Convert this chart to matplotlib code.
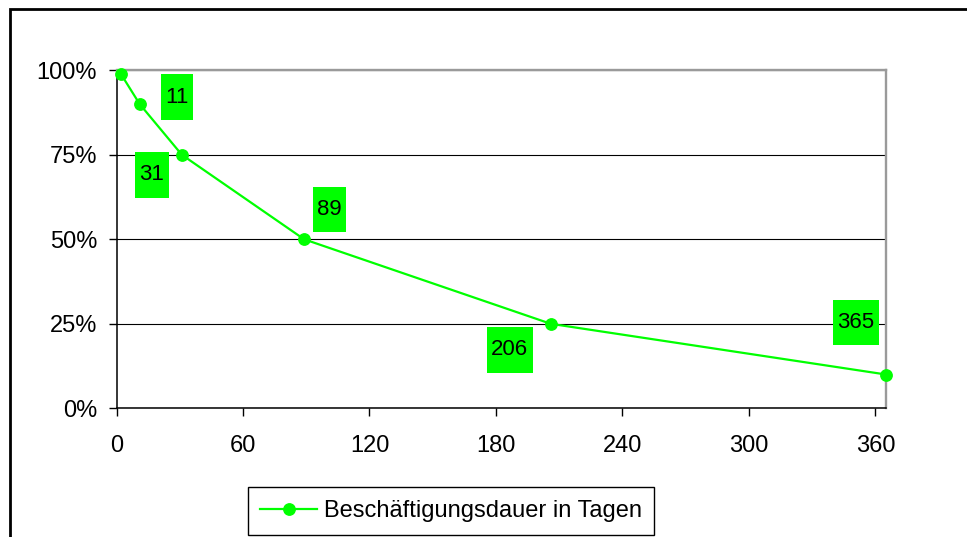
import matplotlib
matplotlib.use("Agg")
import matplotlib.pyplot as plt
from matplotlib.path import Path
from matplotlib.patches import Rectangle

# ---- data ----
days = [2, 11, 31, 89, 206, 365]
share = [0.99, 0.90, 0.75, 0.50, 0.25, 0.10]
point_labels = ["", "11", "31", "89", "206", "365"]
x_ticks = [0, 60, 120, 180, 240, 300, 360]
x_tick_labels = ["0", "60", "120", "180", "240", "300", "360"]
y_ticks = [0, 0.25, 0.5, 0.75, 1.0]
y_tick_labels = ["0%", "25%", "50%", "75%", "100%"]
series_name = "Beschäftigungsdauer in Tagen"

# label box offsets from their point, in pixels
label_offsets = [None, (37, 7), (-30, -20), (25, 30), (-41, -26), (-30, 52)]

GREEN = "#00FF00"
FONT = "Liberation Sans"
plt.rcParams["font.family"] = [FONT, "DejaVu Sans"]


class TallBox:
    """Rectangle box with separate horizontal / vertical padding."""

    def __init__(self, padx, pady):
        self.padx = padx
        self.pady = pady

    def __call__(self, x0, y0, width, height, mutation_size, *args):
        px = self.padx * mutation_size
        py = self.pady * mutation_size
        a = x0 - px
        b = y0 - py
        c = x0 + width + px
        d = y0 + height + py
        return Path([(a, b), (c, b), (c, d), (a, d), (a, b)], closed=True)


W, H = 967, 537
fig = plt.figure(figsize=(W / 100, H / 100), dpi=100)
left, right, top, bottom = 116.5, 886.0, 70.3, 408.3
ax = fig.add_axes([left / W, (H - bottom) / H, (right - left) / W, (bottom - top) / H])

ax.plot(days, share, color=GREEN, lw=1.6, marker="o", markersize=8.2,
        markerfacecolor=GREEN, markeredgecolor=GREEN, label=series_name,
        clip_on=False, zorder=4)

for x, y, lab, off in zip(days, share, point_labels, label_offsets):
    if not lab:
        continue
    ax.annotate(lab, (x, y), xytext=off, textcoords="offset pixels",
                ha="center", va="center", fontsize=16, color="black",
                bbox=dict(boxstyle=TallBox(0.19, 0.55), fc=GREEN, ec="none"),
                zorder=5)

ax.set_xlim(0, 365)
ax.set_ylim(0, 1)
ax.set_xticks(x_ticks)
ax.set_xticklabels(x_tick_labels)
ax.set_yticks(y_ticks)
ax.set_yticklabels(y_tick_labels)

ax.tick_params(axis="both", direction="out", length=5.5, width=1.0, color="black",
               labelsize=17, labelcolor="black")
ax.tick_params(axis="x", pad=14)
ax.tick_params(axis="y", pad=8.5)

ax.set_axisbelow(True)
ax.yaxis.grid(True, color="black", lw=0.8)
ax.xaxis.grid(False)

for s in ("left", "bottom"):
    ax.spines[s].set_color("black")
    ax.spines[s].set_linewidth(1.1)
for s in ("top", "right"):
    ax.spines[s].set_color("#9a9a9a")
    ax.spines[s].set_linewidth(1.7)

leg = ax.legend(loc="center", bbox_to_anchor=(451 / W, 1 - 511 / H),
                bbox_transform=fig.transFigure, fontsize=17, frameon=True,
                fancybox=False, edgecolor="black", framealpha=1,
                handlelength=2.4, handletextpad=0.28, borderpad=0.53,
                borderaxespad=0)
leg.get_frame().set_linewidth(1.0)

# outer chart frame (runs off the right and bottom edge)
fig.add_artist(Rectangle((9.7 / W, -0.2), 1.5, 1 - 8.7 / H + 0.2,
                         transform=fig.transFigure, fill=False,
                         ec="black", lw=2.0))

fig.savefig("out.png", dpi=100)
